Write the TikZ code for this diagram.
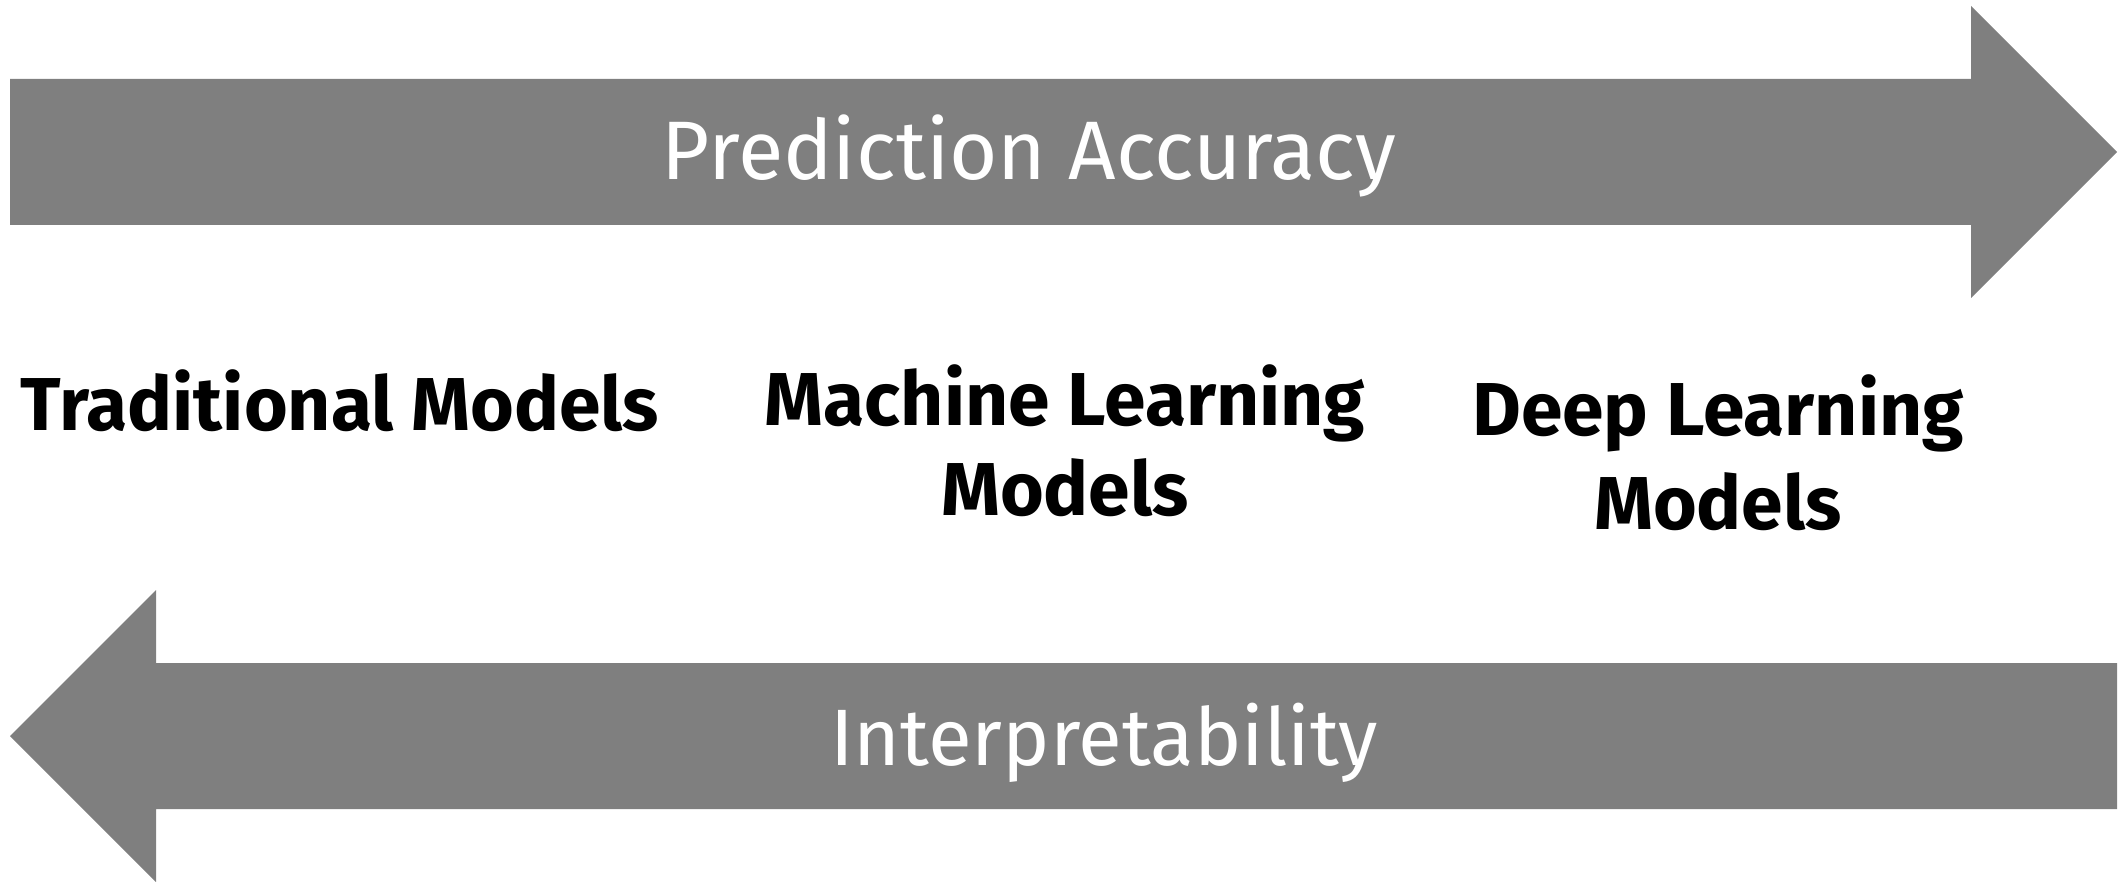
\documentclass[tikz,border=0pt]{standalone}
\usepackage{fontspec}
\setmainfont{Fira Sans}
\definecolor{arrowgray}{RGB}{127,127,127}
\begin{document}
\begin{tikzpicture}[x=0.5pt,y=-0.5pt,
  bigarrow/.style={fill=arrowgray,draw=none},
  arrowtext/.style={anchor=base,text=white,inner sep=0pt},
  modeltext/.style={anchor=base,text=black,inner sep=0pt,font=\fontsize{37.5}{44}\selectfont\bfseries}]
  \useasboundingbox (0,0) rectangle (2125,882);

  % rightward arrow: accuracy
  \fill[bigarrow] (10,79) -- (1971,79) -- (1971,6) -- (2117,152) -- (1971,298)
    -- (1971,225) -- (10,225) -- cycle;
  % leftward arrow: interpretability
  \fill[bigarrow] (10,736) -- (156,590) -- (156,663) -- (2117,663) -- (2117,809)
    -- (156,809) -- (156,882) -- cycle;

  \node[arrowtext,font=\fontsize{41.5}{48}\selectfont] (acc) at (1029,180) {Prediction Accuracy};
  \node[arrowtext,font=\fontsize{40}{46}\selectfont] (interp) at (1104,765) {Interpretability};

  \node[modeltext] (trad) at (340,430) {Traditional Models};
  \node[modeltext] (ml1) at (1065,425) {Machine Learning};
  \node[modeltext] (ml2) at (1065,515) {Models};
  \node[modeltext] (dl1) at (1718,435) {Deep Learning};
  \node[modeltext] (dl2) at (1718,529) {Models};
\end{tikzpicture}
\end{document}
